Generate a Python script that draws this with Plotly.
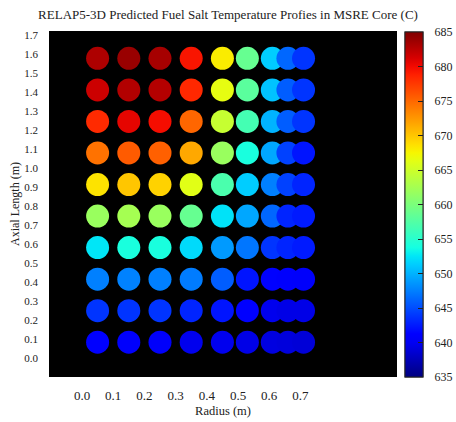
import numpy as np
import plotly.graph_objects as go

# ---- data ----
radius = [0.05, 0.15, 0.25, 0.35, 0.45, 0.53, 0.61, 0.66, 0.71]
axial = [0.083, 0.249, 0.415, 0.581, 0.747, 0.913, 1.079, 1.245, 1.411, 1.577]
# temperature rows, bottom (axial[0]) to top
temp_rows = [
    [641.2, 641.0, 640.8, 639.8, 639.8, 639.5, 639.2, 639.0, 638.8],
    [643.8, 643.8, 643.8, 643.0, 642.2, 641.2, 639.8, 639.5, 639.5],
    [647.5, 647.6, 647.5, 647.3, 645.8, 642.2, 641.3, 641.0, 640.8],
    [652.5, 654.0, 654.0, 651.9, 648.8, 647.0, 643.8, 643.0, 642.5],
    [661.8, 662.5, 661.8, 658.7, 652.3, 649.4, 646.3, 643.0, 642.5],
    [668.5, 670.0, 669.4, 666.2, 657.0, 651.3, 647.5, 644.4, 643.0],
    [674.5, 675.7, 675.4, 671.6, 661.8, 654.0, 649.4, 644.4, 642.2],
    [678.3, 680.6, 679.8, 675.1, 664.5, 656.6, 650.0, 645.8, 643.8],
    [681.7, 682.8, 682.7, 678.4, 666.5, 658.0, 650.8, 645.8, 643.8],
    [683.0, 683.9, 683.3, 679.4, 668.0, 658.7, 651.3, 646.3, 643.8],
]
y_ticks = [round(0.1 * i, 1) for i in range(18)]
x_ticks = [round(0.1 * i, 1) for i in range(8)]
cmin, cmax = 635, 685
cbar_ticks = list(range(635, 686, 5))

# ---- jet colorscale ----
def seg(pts, t):
    xs = [p[0] for p in pts]
    ys = [p[1] for p in pts]
    return float(np.interp(t, xs, ys))

R = [(0, 0), (0.35, 0), (0.66, 1), (0.89, 1), (1, 0.5)]
G = [(0, 0), (0.125, 0), (0.375, 1), (0.64, 1), (0.91, 0), (1, 0)]
B = [(0, 0.5), (0.11, 1), (0.34, 1), (0.65, 0), (1, 0)]
jet = []
for t in np.linspace(0, 1, 41):
    r, g, b = seg(R, t), seg(G, t), seg(B, t)
    jet.append([float(t), f"rgb({int(round(r*255))},{int(round(g*255))},{int(round(b*255))})"])

xs, ys, cs = [], [], []
for j, z in enumerate(axial):
    for i, r in enumerate(radius):
        xs.append(r)
        ys.append(z)
        cs.append(temp_rows[j][i])

serif = "Liberation Serif, Times New Roman, serif"
PL, PR, PT, PB = 49, 397, 31, 377

cb_common = dict(
    xref="paper", x=(405 - PL) / (PR - PL), xanchor="left",
    yref="paper", y=0, yanchor="bottom",
    lenmode="fraction", len=(PB - 32) / (PB - PT), thickness=18,
    xpad=0, ypad=0, tickvals=cbar_ticks,
)

fig = go.Figure()
# colour bar with labels (outside, invisible tick marks for spacing)
fig.add_trace(go.Scatter(
    x=[None], y=[None], mode="markers", showlegend=False, hoverinfo="skip",
    marker=dict(
        color=[cmin], colorscale=jet, cmin=cmin, cmax=cmax, size=1,
        colorbar=dict(
            **cb_common,
            outlinewidth=1, outlinecolor="#222",
            ticks="outside", ticklen=9, tickcolor="rgba(0,0,0,0)",
            tickfont=dict(family=serif, size=12, color="#222"),
        ),
    ),
))
# data markers, colour bar with inner tick dashes
fig.add_trace(go.Scatter(
    x=xs, y=ys, mode="markers", showlegend=False, hoverinfo="skip",
    marker=dict(
        size=23, color=cs, colorscale=jet, cmin=cmin, cmax=cmax,
        line=dict(width=0),
        colorbar=dict(
            **cb_common,
            outlinewidth=1, outlinecolor="#222",
            ticks="inside", ticklen=5, tickcolor="#222",
            showticklabels=False,
        ),
    ),
))

fig.update_layout(
    width=456, height=422,
    margin=dict(l=PL, r=456 - PR, t=PT, b=422 - PB, autoexpand=False),
    paper_bgcolor="white", plot_bgcolor="black",
    showlegend=False,
    title=dict(
        text="RELAP5-3D Predicted Fuel Salt Temperature Profies in MSRE Core (C)",
        x=0.5, xref="container", xanchor="center",
        y=1 - 14 / 422, yref="container", yanchor="middle",
        font=dict(family=serif, size=13, color="#222"),
    ),
    font=dict(family=serif, color="#222"),
)
fig.update_xaxes(
    range=[(PL - 82) / 312, (PR - 82) / 312],
    tickvals=x_ticks, ticktext=[f"{v:.1f}" for v in x_ticks],
    showgrid=False, zeroline=False, showline=False,
    ticks="", ticklabelstandoff=9,
    tickfont=dict(family=serif, size=13, color="#222"),
    title=dict(text="Radius (m)", font=dict(family=serif, size=12.5, color="#222"), standoff=4),
)
fig.update_yaxes(
    range=[(358 - PB) / 190, (358 - PT) / 190],
    tickvals=y_ticks, ticktext=[f"{v:.1f}" for v in y_ticks],
    showgrid=False, zeroline=False, showline=False,
    ticks="", ticklabelstandoff=10,
    tickfont=dict(family=serif, size=11, color="#222"),
    title=dict(text="Axial Length (m)", font=dict(family=serif, size=12, color="#222"), standoff=2),
)

fig.write_html("out.html", config={"displayModeBar": False})

# remove the browser's default page margin so the figure sits at (0, 0)
with open("out.html", "r", encoding="utf-8") as f:
    html = f.read()
html = html.replace("<head>", "<head><style>html,body{margin:0;padding:0;}</style>", 1)
with open("out.html", "w", encoding="utf-8") as f:
    f.write(html)
